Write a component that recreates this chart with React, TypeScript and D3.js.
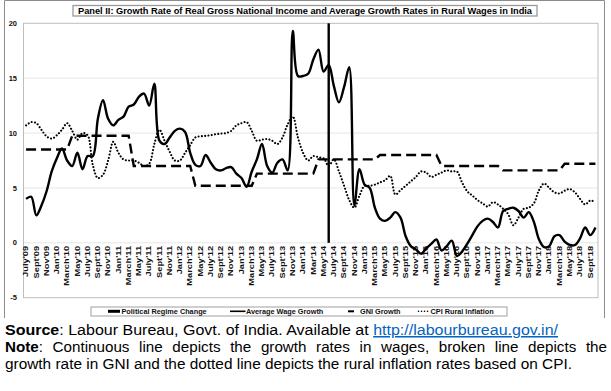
import React, { useLayoutEffect, useRef } from "react";
import * as d3 from "d3";

const tickLabels = [
  "July'09", "Sept'09", "Nov'09",
  "Jan'10", "March'10", "May'10", "July'10", "Sept'10", "Nov'10",
  "Jan'11", "March'11", "May'11", "July'11", "Sept'11", "Nov'11",
  "Jan'12", "March'12", "May'12", "July'12", "Sept'12", "Nov'12",
  "Jan'13", "March'13", "May'13", "July'13", "Sept'13", "Nov'13",
  "Jan'14", "Mar'14", "May'14", "July'14", "Sept'14", "Nov'14",
  "Jan'15", "March'15", "May'15", "July'15", "Sept'15", "Nov'15",
  "Jan'16", "March'16", "May'16", "July'16", "Sept'16", "Nov'16",
  "Jan'17", "March'17", "May'17", "July'17", "Sept'17", "Nov'17",
  "Jan'18", "March'18", "May'18", "July'18", "Sept'18",
];

// Monthly series, July'09 .. Oct'18 (112 months)
const wage = [
  4.0, 4.2, 2.5, 3.4, 4.7, 6.5, 7.7, 8.6, 7.5, 7.0,
  8.2, 6.7, 7.9, 7.9, 11.3, 13.0, 11.3, 10.7, 11.2, 11.5,
  12.4, 12.6, 13.3, 13.6, 12.5, 14.5, 9.3, 9.0, 9.6, 10.2,
  10.4, 10.1, 8.2, 7.1, 7.0, 8.0, 7.3, 6.7, 6.6, 6.8,
  6.9, 6.3, 5.9, 5.1, 6.5, 7.6, 9.0, 7.0, 6.4, 7.3,
  7.6, 6.6, 19.3, 15.2, 15.2, 15.4, 16.7, 17.6, 15.6, 16.2,
  14.3, 12.8, 14.2, 16.0, 3.4, 6.7, 5.3, 5.0, 3.2, 2.2,
  2.0, 2.3, 2.8, 2.3, 0.6, -0.3, -0.6, -1.0, -0.5, -0.1,
  0.3, -0.7, -0.3, 0.2, -1.2, -0.8, -0.1, 0.7, 1.5, 2.0,
  2.2, 1.9, 1.4, 2.9, 3.1, 3.2, 2.9, 2.3, 2.8, 1.9,
  0.3, -0.4, -0.3, 0.6, 0.7, 0.1, -0.2, -0.2, 0.4, 1.4,
  0.7, 1.4,
];

const gni = [
  8.5, 8.5, 8.5, 8.5, 8.5, 8.5, 8.5, 8.5, 8.5, 9.75,
  9.75, 9.75, 9.75, 9.75, 9.75, 9.75, 9.75, 9.75, 9.75, 9.75,
  9.75, 7.0, 7.0, 7.0, 7.0, 7.0, 7.0, 7.0, 7.0, 7.0,
  7.0, 7.0, 7.0, 5.2, 5.2, 5.2, 5.2, 5.2, 5.2, 5.2,
  5.2, 5.2, 5.2, 5.2, 5.2, 6.3, 6.3, 6.3, 6.3, 6.3,
  6.3, 6.3, 6.3, 6.3, 6.3, 6.3, 6.3, 7.6, 7.6, 7.6,
  7.6, 7.6, 7.6, 7.6, 7.6, 7.6, 7.6, 7.6, 7.6, 8.0,
  8.0, 8.0, 8.0, 8.0, 8.0, 8.0, 8.0, 8.0, 8.0, 8.0,
  8.0, 7.0, 7.0, 7.0, 7.0, 7.0, 7.0, 7.0, 7.0, 7.0,
  7.0, 7.0, 7.0, 6.6, 6.6, 6.6, 6.6, 6.6, 6.6, 6.6,
  6.6, 6.6, 6.6, 6.6, 6.6, 7.2, 7.2, 7.2, 7.2, 7.2,
  7.2, 7.2,
];

const cpi = [
  10.7, 11.0, 10.9, 10.3, 9.7, 9.5, 9.8, 10.3, 10.9, 10.2,
  9.4, 10.0, 9.8, 7.1, 5.9, 6.2, 7.5, 9.2, 8.2, 7.6,
  7.5, 7.5, 7.3, 7.0, 7.2, 9.0, 10.3, 9.3, 8.3, 7.5,
  7.5, 8.2, 8.9, 9.6, 9.7, 9.75, 9.8, 9.9, 9.95, 10.0,
  10.2, 10.7, 10.9, 11.0, 10.2, 9.3, 9.4, 9.45, 9.3, 9.0,
  9.6, 10.8, 11.5, 9.6, 8.2, 7.5, 7.9, 7.8, 7.7, 7.0,
  7.6, 6.5, 5.2, 3.9, 3.2, 4.3, 5.2, 5.2, 5.3, 5.5,
  5.7, 6.1, 4.4, 4.8, 5.2, 5.6, 6.0, 6.5, 6.4, 6.0,
  6.2, 6.4, 6.6, 6.5, 6.5, 5.5, 4.7, 4.3, 3.9, 3.6,
  3.3, 3.7, 3.5, 3.1, 2.6, 1.6, 2.3, 3.1, 3.2, 3.6,
  4.8, 5.4, 5.0, 4.6, 4.5, 4.75, 4.9, 4.6, 4.0, 3.5,
  3.85, 3.7,
];

const regimeChangeIndex = 59; // June'14
const regimeChangeValue = 20;
const yTicks = [-5, 0, 5, 10, 15, 20];
const gridTicks = [0, 5, 10, 15];

const FONT = "'Liberation Sans', Arial, Helvetica, sans-serif";

export default function App() {
  const W = 611;
  const H = 391;
  const left = 23.5, right = 598, top = 23.3, bottom = 297.7;

  const x = d3
    .scaleBand<number>()
    .domain(d3.range(wage.length))
    .range([left, right]);
  const cx = (i: number) => (x(i) as number) + x.bandwidth() / 2;
  const y = d3.scaleLinear().domain([-5, 20]).range([bottom, top]);

  const smooth = d3
    .line<number>()
    .x((_, i) => cx(i))
    .y((d) => y(d))
    .curve(d3.curveCatmullRom.alpha(0.5));
  const straight = d3
    .line<number>()
    .x((_, i) => cx(i))
    .y((d) => y(d));

  const noteRef = useRef<SVGTextElement>(null);
  useLayoutEffect(() => {
    const el = noteRef.current;
    if (!el) return;
    el.setAttribute("word-spacing", "0");
    const w = el.getComputedTextLength();
    const spaces = 12;
    const target = 602;
    el.setAttribute("word-spacing", String(Math.max(0, (target - w) / spaces)));
  }, []);

  return (
    <div style={{ position: "fixed", left: 0, top: 0, width: W, height: H, background: "#fff" }}>
      <svg width={W} height={H} style={{ display: "block" }} fontFamily={FONT}>
        <rect x={0} y={0} width={W} height={H} fill="#fff" />
        {/* outer chart frame */}
        <path d={`M4.5,318 V0.5 H604.5 V318`} fill="none" stroke="#8c8c8c" strokeWidth={1} />

        {/* title box */}
        <rect x={73} y={5.5} width={464} height={10.5} fill="#fff" stroke="#9a9a9a" strokeWidth={1.3} />
        <text
          x={305}
          y={14}
          textAnchor="middle"
          fontSize={8.6}
          fontWeight="bold"
          textLength={454}
          lengthAdjust="spacingAndGlyphs"
        >
          Panel II: Growth Rate of Real Gross National Income and Average Growth Rates in Rural Wages in India
        </text>

        {/* gridlines */}
        {gridTicks.map((t) => (
          <line key={t} x1={left} x2={right} y1={y(t)} y2={y(t)} stroke="#e6e6e6" strokeWidth={1} />
        ))}
        {/* plot border */}
        <rect x={left} y={top} width={right - left} height={bottom - top} fill="none" stroke="#bdbdbd" strokeWidth={1} />

        {/* y tick labels */}
        {yTicks.map((t) => (
          <text key={t} x={17} y={y(t) + 2.6} textAnchor="end" fontSize={7.5} fontWeight="bold" fill="#111">
            {t}
          </text>
        ))}

        {/* x tick labels */}
        {tickLabels.map((lab, k) => {
          const xi = cx(k * 2);
          return (
            <text
              key={lab}
              transform={`translate(${xi + 2.2},${y(0) + 3}) rotate(-90) scale(1.45,1)`}
              textAnchor="end"
              fontSize={6.4}
              fontWeight="bold"
              fill="#111"
            >
              {lab}
            </text>
          );
        })}

        {/* series */}
        <path d={straight(gni) || ""} fill="none" stroke="#000" strokeWidth={2.4} strokeDasharray="10,5" />
        <path
          d={smooth(cpi) || ""}
          fill="none"
          stroke="#000"
          strokeWidth={2.1}
          strokeDasharray="0.01,3.3"
          strokeLinecap="round"
        />
        <path d={smooth(wage) || ""} fill="none" stroke="#000" strokeWidth={2.4} strokeLinejoin="round" />
        <line
          x1={cx(regimeChangeIndex)}
          x2={cx(regimeChangeIndex)}
          y1={y(0)}
          y2={y(regimeChangeValue)}
          stroke="#000"
          strokeWidth={2.4}
        />

        {/* legend */}
        <rect x={91} y={307} width={416} height={9} fill="#fff" stroke="#a0a0a0" strokeWidth={1} />
        <g fontSize={7.3} fontWeight="bold" fill="#111">
          <rect x={108} y={309.8} width={12} height={3} fill="#000" />
          <text x={121.5} y={314.3}>Political Regime Change</text>
          <line x1={230} x2={245.5} y1={311.3} y2={311.3} stroke="#000" strokeWidth={1.6} />
          <text x={246} y={314.3}>Average Wage Growth</text>
          <line x1={348} x2={354} y1={311.3} y2={311.3} stroke="#000" strokeWidth={2} />
          <text x={360} y={314.3}>GNI Growth</text>
          <line
            x1={418.5}
            x2={429}
            y1={311.3}
            y2={311.3}
            stroke="#000"
            strokeWidth={1.6}
            strokeDasharray="0.01,3"
            strokeLinecap="round"
          />
          <text x={430.5} y={314.3}>CPI Rural Inflation</text>
        </g>

        {/* footer */}
        <g fontSize={15.2} fill="#000">
          <text x={5} y={335} textLength={553} lengthAdjust="spacingAndGlyphs">
            <tspan fontWeight="bold">Source</tspan>
            <tspan>: Labour Bureau, Govt. of India. Available at </tspan>
            <tspan fill="#0563C1" textDecoration="underline">http://labourbureau.gov.in/</tspan>
          </text>
          <text x={5} y={352} ref={noteRef}>
            <tspan fontWeight="bold">Note</tspan>
            <tspan>: Continuous line depicts the growth rates in wages, broken line depicts the</tspan>
          </text>
          <text x={5} y={369} textLength={567} lengthAdjust="spacingAndGlyphs">
            growth rate in GNI and the dotted line depicts the rural inflation rates based on CPI.
          </text>
        </g>
      </svg>
    </div>
  );
}
